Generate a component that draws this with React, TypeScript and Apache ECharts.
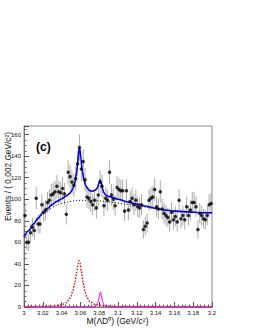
import React, { useEffect, useRef } from "react";
import * as echarts from "echarts";

// Histogram: 100 bins of 0.002 GeV/c^2 from 3.000 to 3.200
const binStart = 3.0;
const binWidth = 0.002;
const counts = [
  85, 60, 60, 69, 74, 71, 101, 77, 77, 95,
  88, 90, 97, 99, 104, 105, 107, 112, 107, 106,
  110, 105, 86, 125, 121, 116, 113, 119, 133, 148,
  128, 135, 118, 102, 101, 98, 95, 99, 92, 104,
  116, 112, 94, 101, 99, 125, 104, 100, 94, 111,
  109, 108, 108, 89, 108, 90, 98, 101, 95, 99,
  93, 92, 95, 72, 75, 78, 99, 101, 102, 109,
  93, 91, 107, 91, 87, 85, 83, 79, 88, 81,
  84, 79, 99, 82, 85, 81, 93, 85, 90, 97,
  97, 93, 72, 87, 85, 82, 81, 85, 95, 96,
];

// Total fit (blue solid)
const totalFitX = [3.0, 3.005, 3.01, 3.015, 3.02, 3.025, 3.03, 3.035, 3.04, 3.045, 3.048, 3.05, 3.052, 3.054, 3.056, 3.057, 3.058, 3.0588, 3.0596, 3.0605, 3.062, 3.064, 3.066, 3.068, 3.07, 3.073, 3.076, 3.078, 3.0795, 3.0808, 3.082, 3.0835, 3.085, 3.087, 3.09, 3.095, 3.1, 3.11, 3.12, 3.13, 3.14, 3.15, 3.16, 3.17, 3.18, 3.19, 3.2];
const totalFitY = [65, 71, 77, 82.5, 87.5, 91.5, 95, 98, 100.5, 103, 105, 107, 110, 115, 125, 133, 142, 148, 146, 138, 126, 117, 112, 109.5, 108, 107.5, 108.5, 110.5, 114, 118, 116, 110, 106, 104, 102.5, 101.5, 100, 97.5, 95.5, 93.5, 91.5, 90, 89, 88.5, 88, 87.5, 87.5];

// Background (black dotted)
const bkgX = [3.0, 3.01, 3.02, 3.03, 3.04, 3.05, 3.06, 3.07, 3.08, 3.09, 3.1, 3.12, 3.14, 3.16, 3.18, 3.2];
const bkgY = [65, 76.5, 86, 92.5, 96, 98, 99, 99, 98.5, 97.5, 96.5, 94, 91.2, 89.2, 88, 87.2];

// First peak component (red dotted)
const peak1X = [3.0, 3.03, 3.04, 3.045, 3.048, 3.05, 3.052, 3.054, 3.056, 3.0575, 3.0585, 3.0595, 3.061, 3.063, 3.065, 3.067, 3.07, 3.075, 3.085, 3.1, 3.2];
const peak1Y = [0.3, 0.8, 2, 4, 7, 10, 15, 22, 32, 40, 43, 41, 33, 22, 14, 9, 5, 2.5, 1, 0.5, 0.2];

// Second peak component (magenta solid)
const peak2X = [3.0, 3.074, 3.077, 3.079, 3.08, 3.0813, 3.0825, 3.0835, 3.0855, 3.089, 3.2];
const peak2Y = [0, 0.3, 1.5, 5, 10, 14, 10, 5, 1.5, 0.3, 0];

const FONT = "Liberation Sans, Arial, Helvetica, sans-serif";

const zip = (xs: number[], ys: number[]) => xs.map((x, i) => [x, ys[i]]);

export default function App() {
  const ref = useRef<HTMLDivElement>(null);
  useEffect(() => {
    if (!ref.current) return;
    const chart = echarts.init(ref.current, null, { renderer: "svg" });
    const points = counts.map((c, i) => [binStart + binWidth * (i + 0.5), c]);
    const errs = counts.map((c, i) => [
      binStart + binWidth * (i + 0.5),
      c - Math.sqrt(c),
      c + Math.sqrt(c),
    ]);
    const fmtX = (v: number) => parseFloat(v.toFixed(3)).toString();
    chart.setOption({
      animation: false,
      grid: {
        left: 24,
        right: 43,
        top: 126,
        bottom: 23,
        show: true,
        borderColor: "#8a8a8a",
        borderWidth: 1,
      },
      xAxis: {
        type: "value",
        min: 3.0,
        max: 3.2,
        interval: 0.02,
        axisLine: { show: true, onZero: false, lineStyle: { color: "#777", width: 1 } },
        axisTick: { show: true, inside: true, length: 5, lineStyle: { color: "#555" } },
        minorTick: { show: true, splitNumber: 5, length: 2.5, lineStyle: { color: "#666" } },
        axisLabel: { fontSize: 6, color: "#111", margin: 3, fontFamily: FONT, formatter: fmtX },
        splitLine: { show: false },
      },
      yAxis: {
        type: "value",
        min: 0,
        max: 168,
        interval: 20,
        axisLine: { show: true, onZero: false, lineStyle: { color: "#777", width: 1 } },
        axisTick: { show: true, inside: true, length: 5, lineStyle: { color: "#555" } },
        minorTick: { show: true, splitNumber: 4, length: 2.5, lineStyle: { color: "#666" } },
        axisLabel: { fontSize: 6, color: "#111", margin: 3, fontFamily: FONT, showMaxLabel: false },
        splitLine: { show: false },
      },
      graphic: [
        {
          type: "text",
          x: 8,
          y: 132,
          rotation: Math.PI / 2,
          style: {
            text: "Events / ( 0.002 GeV/c²)",
            fontSize: 8.3,
            fontFamily: FONT,
            fill: "#111",
            textAlign: "right",
            textVerticalAlign: "middle",
          },
        },
        {
          type: "text",
          x: 117.5,
          y: 321,
          style: {
            text: "M(ΛD⁰) (GeV/c²)",
            fontSize: 8.5,
            fontFamily: FONT,
            fill: "#111",
            textAlign: "center",
            textVerticalAlign: "middle",
          },
        },
        {
          type: "text",
          x: 36,
          y: 147,
          style: {
            text: "(c)",
            fontSize: 12,
            fontWeight: "bold",
            fontFamily: FONT,
            fill: "#000",
            textAlign: "left",
            textVerticalAlign: "middle",
          },
        },
      ],
      series: [
        {
          type: "custom",
          name: "err",
          data: errs,
          encode: { x: 0, y: [1, 2] },
          renderItem: (params: any, api: any) => {
            const x = api.value(0);
            const p1 = api.coord([x, api.value(1)]);
            const p2 = api.coord([x, api.value(2)]);
            return {
              type: "line",
              shape: { x1: p1[0], y1: p1[1], x2: p2[0], y2: p2[1] },
              style: { stroke: "#a0a0a0", lineWidth: 0.9 },
            };
          },
          z: 1,
        },
        {
          type: "line",
          data: zip(peak1X, peak1Y),
          showSymbol: false,
          smooth: 0.3,
          smoothMonotone: "x",
          lineStyle: { color: "#ff0000", width: 1.4, type: [1.5, 1.5] },
          z: 2,
        },
        {
          type: "line",
          data: zip(peak2X, peak2Y),
          showSymbol: false,
          smooth: 0.3,
          smoothMonotone: "x",
          lineStyle: { color: "#ff00ff", width: 1 },
          z: 2,
        },
        {
          type: "line",
          data: zip(bkgX, bkgY),
          showSymbol: false,
          smooth: 0.4,
          lineStyle: { color: "#000", width: 1, type: [1, 2] },
          z: 3,
        },
        {
          type: "line",
          data: zip(totalFitX, totalFitY),
          showSymbol: false,
          smooth: 0.3,
          smoothMonotone: "x",
          lineStyle: { color: "#0000ee", width: 1.6 },
          z: 4,
        },
        {
          type: "scatter",
          data: points,
          symbol: "circle",
          symbolSize: 3.5,
          itemStyle: { color: "#000" },
          z: 5,
        },
      ],
    });
    return () => chart.dispose();
  }, []);
  return (
    <div
      ref={ref}
      style={{ position: "fixed", left: 0, top: 0, width: 255, height: 330, background: "#fff" }}
    />
  );
}
